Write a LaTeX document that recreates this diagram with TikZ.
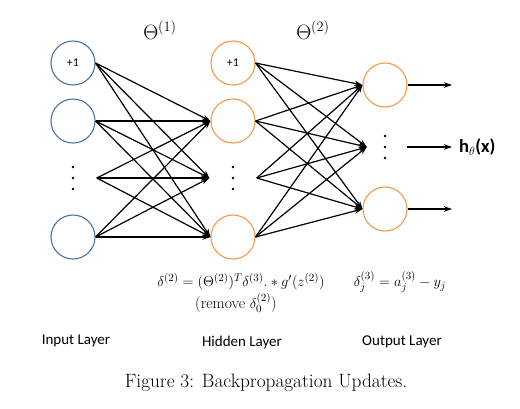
\documentclass[tikz,border=0pt]{standalone}
\usepackage{fontspec}
\newfontfamily\carl{Carlito}
\usetikzlibrary{arrows.meta,calc}
\definecolor{nblue}{HTML}{4A72A6}
\definecolor{norange}{HTML}{F59A4A}
\begin{document}
\begin{tikzpicture}[x=1pt,y=-1pt,
  inp/.style={circle, draw=nblue, line width=1.1pt, minimum size=44pt, inner sep=0pt, font=\carl\fontsize{12}{14}\selectfont},
  hid/.style={circle, draw=norange, line width=1.1pt, minimum size=44pt, inner sep=0pt, font=\carl\fontsize{12}{14}\selectfont},
  ghost/.style={circle, minimum size=47pt, inner sep=0pt},
  edge/.style={line width=1.2pt, -{Stealth[length=8pt,width=5.5pt]}},
  lab/.style={font=\carl\fontsize{15}{18}\selectfont},
  eq/.style={font=\fontsize{15.7}{19}\selectfont}
]
\useasboundingbox (0,0) rectangle (520,408);
% input layer
\node[inp] (i1) at (73,63) {+1};
\node[inp] (i2) at (73,121) {};
\node[ghost] (i3) at (73,178) {};
\node[inp] (i4) at (73,237) {};
% hidden layer
\node[hid] (h1) at (233,63) {+1};
\node[hid] (h2) at (233,121) {};
\node[ghost] (h3) at (233,178) {};
\node[hid] (h4) at (233,237) {};
% output layer
\node[hid] (o1) at (385,85) {};
\node[ghost, minimum size=36pt] (o2) at (385,147) {};
\node[hid] (o3) at (385,209) {};
% dots
\foreach \n in {i3,h3,o2}{
  \foreach \d in {-11,0,11}{
    \fill ($(\n)+(0,\d)$) circle (1.4pt);
  }
}
% edges input -> hidden
\foreach \s in {i1,i2,i3,i4}{
  \foreach \t in {h2,h3,h4}{
    \draw[edge] (\s.east) -- (\t.west);
  }
}
% edges hidden -> output
\foreach \s in {h1,h2,h3,h4}{
  \foreach \t in {o1,o2,o3}{
    \draw[edge] (\s.east) -- (\t.west);
  }
}
% outputs
\coordinate (a1) at (452,85);
\coordinate (a3) at (452,209);
\coordinate (a2s) at (407,147);
\coordinate (a2e) at (452,147);
\node[anchor=west, inner sep=0pt, font=\carl\bfseries\fontsize{18.5}{22}\selectfont] (hx) at (459,147) {h$_\theta$(x)};
\draw[edge] (o1.east) -- (a1);
\draw[edge] (o3.east) -- (a3);
\draw[edge] (a2s) -- (a2e);
% thetas
\node[font=\fontsize{21}{25}\selectfont] (t1) at (160,30) {$\Theta^{(1)}$};
\node[font=\fontsize{21}{25}\selectfont] (t2) at (313,30) {$\Theta^{(2)}$};
% equations
\node[eq] (e1) at (241,282) {$\delta^{(2)}=(\Theta^{(2)})^T\delta^{(3)}.*g'(z^{(2)})$};
\node[eq] (e2) at (236,303) {(remove $\delta^{(2)}_0$)};
\node[eq] (e3) at (400,282) {$\delta^{(3)}_j=a^{(3)}_j-y_j$};
% layer labels
\node[lab] (l1) at (76,341) {Input Layer};
\node[lab] (l2) at (242,342) {Hidden Layer};
\node[lab] (l3) at (402,342) {Output Layer};
% caption
\node[font=\fontsize{19.3}{23}\selectfont] (cap) at (266,383) {Figure 3: Backpropagation Updates.};
\end{tikzpicture}
\end{document}
